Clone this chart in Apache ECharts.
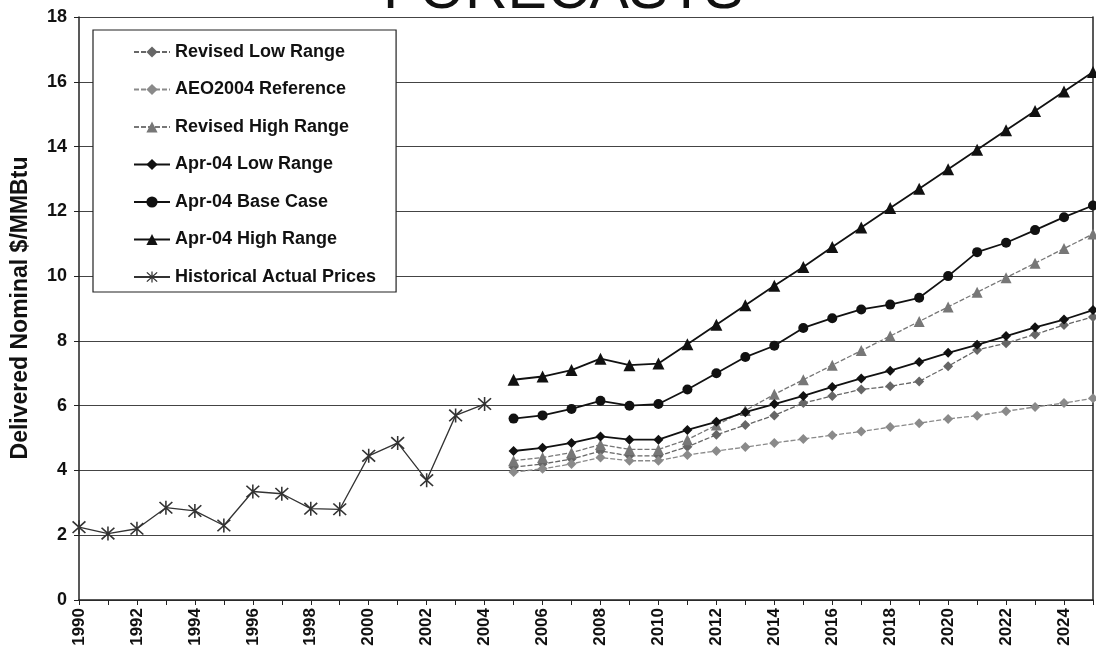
<!DOCTYPE html>
<html>
<head>
<meta charset="utf-8">
<script src="https://cdn.jsdelivr.net/npm/echarts@6/dist/echarts.min.js"></script>
<style>
  html, body { margin: 0; padding: 0; background: #fff; }
  #chart { width: 1096px; height: 664px; }
</style>
</head>
<body>
<div id="chart"></div>
<script>
// years 1990 - 2025
const years = []
for (let y = 1990; y <= 2025; y++) years.push(String(y))

// historical actual prices 1990-2004
const historical = [2.25, 2.05, 2.2, 2.85, 2.75, 2.3, 3.35, 3.28, 2.82, 2.8, 4.45, 4.85, 3.7, 5.7, 6.05]

// forecasts 2005-2025
const revisedLow = [4.1, 4.2, 4.35, 4.6, 4.45, 4.45, 4.73, 5.1, 5.4, 5.7, 6.08, 6.3, 6.5, 6.6, 6.75, 7.22, 7.72, 7.93, 8.2, 8.49, 8.74]
const aeo2004 = [3.95, 4.05, 4.2, 4.4, 4.3, 4.3, 4.48, 4.6, 4.72, 4.85, 4.97, 5.09, 5.2, 5.34, 5.46, 5.59, 5.69, 5.83, 5.96, 6.08, 6.23]
const revisedHigh = [4.3, 4.4, 4.55, 4.8, 4.65, 4.65, 4.95, 5.4, 5.85, 6.35, 6.8, 7.25, 7.7, 8.15, 8.6, 9.05, 9.5, 9.95, 10.4, 10.85, 11.3]
const aprLow = [4.6, 4.7, 4.85, 5.05, 4.95, 4.95, 5.25, 5.5, 5.8, 6.05, 6.3, 6.58, 6.84, 7.08, 7.35, 7.63, 7.88, 8.15, 8.42, 8.66, 8.95]
const aprBase = [5.6, 5.7, 5.9, 6.15, 6.0, 6.05, 6.5, 7.0, 7.5, 7.85, 8.4, 8.7, 8.97, 9.12, 9.33, 10.0, 10.74, 11.03, 11.42, 11.82, 12.18]
const aprHigh = [6.8, 6.9, 7.1, 7.45, 7.25, 7.3, 7.9, 8.5, 9.1, 9.7, 10.28, 10.9, 11.5, 12.1, 12.7, 13.3, 13.9, 14.5, 15.1, 15.7, 16.3]

// pad series onto the full year axis
const fc = arr => new Array(15).fill(null).concat(arr)
const hist = arr => arr.concat(new Array(years.length - arr.length).fill(null))

const asterisk = 'path://M-1,-10L1,-10L1,10L-1,10Z M-9,-7.5L-7.5,-9L9,7.5L7.5,9Z M7.5,-9L9,-7.5L-7.5,9L-9,7.5Z'

const font = 'Arial, "Liberation Sans", sans-serif'

const chart = echarts.init(document.getElementById('chart'))

function line(name, data, color, symbol, size, dashed) {
  return {
    name: name,
    type: 'line',
    data: data,
    symbol: symbol,
    symbolSize: size,
    showSymbol: true,
    connectNulls: false,
    animation: false,
    lineStyle: { color: color, width: dashed ? 1.3 : 1.8, type: dashed ? [5, 2] : 'solid' },
    itemStyle: { color: color, borderColor: color, borderWidth: 0 },
    emphasis: { disabled: true }
  }
}

chart.setOption({
  animation: false,
  title: {
    text: 'FORECASTS',
    left: 378,
    top: -43,
    textStyle: { fontFamily: font, fontSize: 59, fontWeight: 'normal', color: '#111' }
  },
  // y axis title, placed by hand so it sits left of the tick numbers
  graphic: [{
    type: 'text',
    x: 21,
    y: 308,
    rotation: Math.PI / 2,
    style: {
      text: 'Delivered Nominal $/MMBtu',
      fontFamily: font,
      fontSize: 23,
      fontWeight: 'bold',
      fill: '#111',
      textAlign: 'center',
      textVerticalAlign: 'middle'
    }
  }],
  legend: {
    orient: 'vertical',
    left: 93,
    top: 30,
    padding: [13, 20, 6, 40],
    itemGap: 19.5,
    itemWidth: 36,
    itemHeight: 14,
    backgroundColor: '#fff',
    borderColor: '#222',
    borderWidth: 1.2,
    textStyle: { fontFamily: font, fontSize: 18, lineHeight: 18, fontWeight: 'bold', color: '#111' },
    data: ['Revised Low Range', 'AEO2004 Reference', 'Revised High Range', 'Apr-04 Low Range',
      'Apr-04 Base Case', 'Apr-04 High Range', 'Historical Actual Prices']
  },
  grid: { left: 79, right: 3, top: 17, bottom: 64 },
  xAxis: {
    type: 'category',
    data: years,
    boundaryGap: false,
    axisLine: { lineStyle: { color: '#222', width: 1.5 } },
    axisTick: { show: true, interval: 0, length: 5, lineStyle: { color: '#222' } },
    axisLabel: { interval: 1, rotate: 90, fontFamily: font, fontSize: 17, fontWeight: 'bold', color: '#111', margin: 8 },
    splitLine: { show: false }
  },
  yAxis: [{
    type: 'value',
    min: 0,
    max: 18,
    interval: 2,
    axisLine: { show: true, lineStyle: { color: '#222', width: 1.5 } },
    axisTick: { show: true, length: 5, lineStyle: { color: '#222' } },
    axisLabel: { fontFamily: font, fontSize: 18, fontWeight: 'bold', color: '#111', margin: 12 },
    splitLine: { show: true, lineStyle: { color: '#444', width: 1 } }
  }, {
    type: 'value',
    min: 0,
    max: 18,
    interval: 2,
    position: 'right',
    axisLine: { show: true, lineStyle: { color: '#222', width: 1.5 } },
    axisTick: { show: false },
    axisLabel: { show: false },
    splitLine: { show: false }
  }],
  series: [
    line('Revised Low Range', fc(revisedLow), '#666', 'diamond', 10, true),
    line('AEO2004 Reference', fc(aeo2004), '#8a8a8a', 'diamond', 10, true),
    line('Revised High Range', fc(revisedHigh), '#777', 'triangle', 11, true),
    line('Apr-04 Low Range', fc(aprLow), '#111', 'diamond', 10, false),
    line('Apr-04 Base Case', fc(aprBase), '#111', 'circle', 10, false),
    line('Apr-04 High Range', fc(aprHigh), '#111', 'triangle', 12, false),
    Object.assign(line('Historical Actual Prices', hist(historical), '#333', asterisk, 14, false),
      { lineStyle: { color: '#333', width: 1.3 } })
  ]
})
</script>
</body>
</html>
